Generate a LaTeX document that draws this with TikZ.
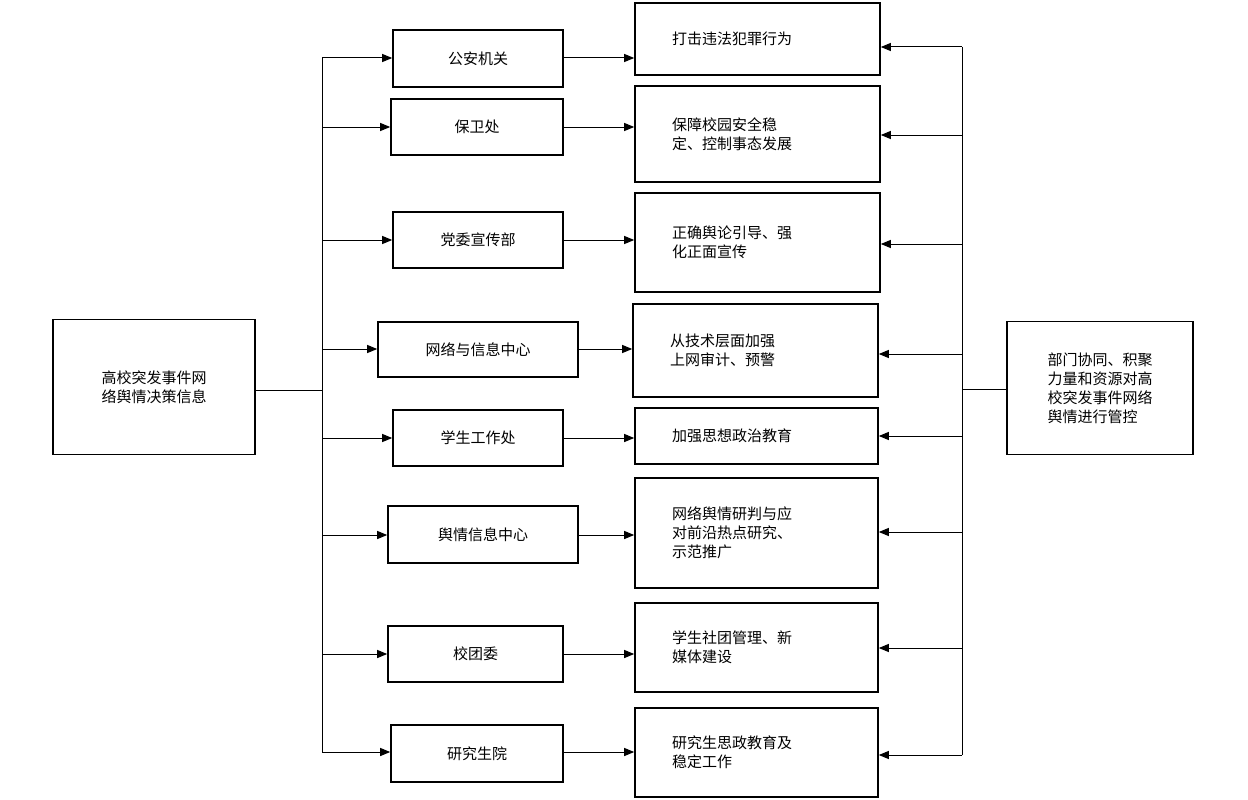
\documentclass[tikz,border=0pt]{standalone}
\usepackage{fontspec}
\setmainfont{Noto Sans CJK SC}
\usetikzlibrary{arrows.meta}
\begin{document}
\begin{tikzpicture}[x=1pt,y=-1pt,
 box/.style={draw,line width=1.6pt,inner sep=0pt,font=\fontsize{15}{19}\selectfont},
 arr/.style={line width=1pt,-{Triangle[length=10pt,width=8pt]}},
 ln/.style={line width=1pt}]
\useasboundingbox (0,0) rectangle (1248,800);
\node[box,minimum width=202,minimum height=135,align=center] (L) at (154,387) {高校突发事件网\\络舆情决策信息};
\node[box,minimum width=186,minimum height=133,align=left] (R) at (1100,388) {部门协同、积聚\\力量和资源对高\\校突发事件网络\\舆情进行管控};
\coordinate (t0) at (322,58); \coordinate (t1) at (322,752); \coordinate (tm) at (322,390);
\draw[ln] (L.east |- tm) -- (tm); \draw[ln] (t0) -- (t1);
\coordinate (r0) at (962,47); \coordinate (r1) at (962,755); \coordinate (rm) at (962,389);
\draw[ln] (r0) -- (r1); \draw[ln] (R.west |- rm) -- (rm);
\foreach \i/\xa/\xb/\ya/\yb/\ym/\txt/\ra/\rb/\rtop/\rbot/\rarr/\rtxt in {
1/393/563/30/87/58/公安机关/635/880/3/75/47/{打击违法犯罪行为},
2/391/563/99/155/127/保卫处/635/880/86/182/135/{保障校园安全稳\\定、控制事态发展},
3/393/563/212/268/240/党委宣传部/635/880/193/292/244/{正确舆论引导、强\\化正面宣传},
4/378/578/322/377/349/网络与信息中心/633/878/304/397/354/{从技术层面加强\\上网审计、预警},
5/393/563/410/466/438/学生工作处/635/878/408/464/436/{加强思想政治教育},
6/388/578/506/563/535/舆情信息中心/635/878/478/588/532/{网络舆情研判与应\\对前沿热点研究、\\示范推广},
7/388/563/626/682/654/校团委/635/878/603/692/648/{学生社团管理、新\\媒体建设},
8/391/563/725/782/752/研究生院/635/878/708/797/755/{研究生思政教育及\\稳定工作}}{
 \node[box,minimum width=\xb-\xa,minimum height=\yb-\ya] (m\i) at ({(\xa+\xb)/2},{(\ya+\yb)/2}) {\txt};
 \node[box,minimum width=\rb-\ra,minimum height=\rbot-\rtop] (b\i) at ({(\ra+\rb)/2},{(\rtop+\rbot)/2}) {};
 \node[anchor=west,align=left,font=\fontsize{15}{19}\selectfont,inner sep=0pt] (bt\i) at ({\ra+37},{(\rtop+\rbot)/2}) {\rtxt};
 \coordinate (lm\i) at (322,\ym);
 \draw[arr] (lm\i) -- (m\i.west |- lm\i);
 \draw[arr] (m\i.east |- lm\i) -- (b\i.west |- lm\i);
 \coordinate (rr\i) at (962,\rarr);
 \draw[arr] (rr\i) -- (b\i.east |- rr\i);
}
\end{tikzpicture}
\end{document}
